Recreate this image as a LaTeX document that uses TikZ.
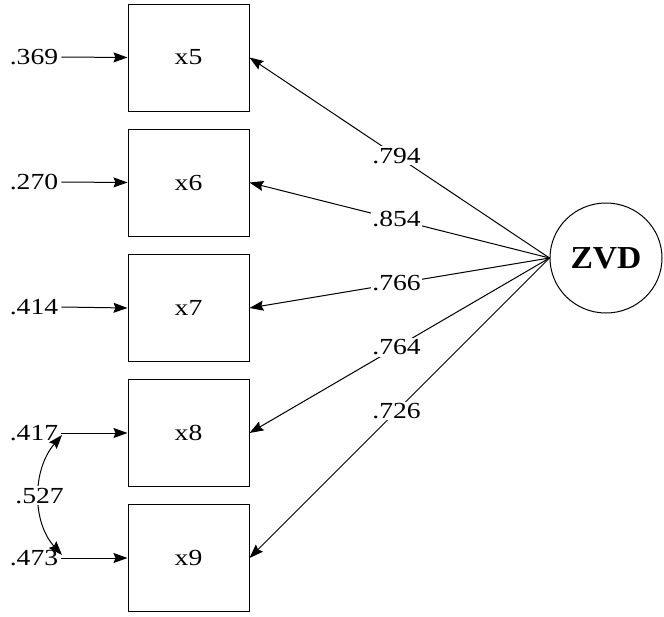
\documentclass[tikz,border=0pt]{standalone}
\usepackage{fontspec}
\setmainfont{Liberation Serif}
\newcommand{\hs}[1]{\scalebox{1.2}[1]{#1}}
\usetikzlibrary{arrows.meta,shapes.geometric}
\begin{document}
\begin{tikzpicture}[x=1pt,y=-1pt,
  box/.style={draw, line width=1pt, minimum width=121pt, minimum height=107pt, inner sep=0pt, font=\fontsize{23}{26}\selectfont},
  lat/.style={draw, ellipse, line width=1pt, minimum width=112pt, minimum height=110pt, inner sep=0pt, font=\fontsize{32}{36}\selectfont\bfseries},
  err/.style={inner sep=3pt, font=\fontsize{23}{26}\selectfont},
  coef/.style={fill=white, inner sep=1.5pt, font=\fontsize{23}{26}\selectfont},
  arr/.style={-{Stealth[length=14pt,width=10pt,inset=2pt]}, line width=1pt},
  darr/.style={{Stealth[length=14pt,width=10pt,inset=2pt]}-{Stealth[length=14pt,width=10pt,inset=2pt]}, line width=1pt}
]
\useasboundingbox (0,0) rectangle (664,616);

\node[box] (x5) at (188.5,57.5) {\hs{x5}};
\node[box] (x6) at (188.5,182.5) {\hs{x6}};
\node[box] (x7) at (188.5,308) {\hs{x7}};
\node[box] (x8) at (188.5,433) {\hs{x8}};
\node[box] (x9) at (188.5,558) {\hs{x9}};

\node[lat] (zvd) at (606,258) {\scalebox{1.05}[1]{ZVD}};

\node[err] (e5) at (34,57) {\hs{.369}};
\node[err] (e6) at (34,182) {\hs{.270}};
\node[err] (e7) at (34,307) {\hs{.414}};
\node[err] (e8) at (34,433) {\hs{.417}};
\node[err] (e9) at (34,558) {\hs{.473}};

\draw[arr] (e5.east) -- (x5.west);
\draw[arr] (e6.east) -- (x6.west);
\draw[arr] (e7.east) -- (x7.west);
\draw[arr] (e8.east) -- (x8.west);
\draw[arr] (e9.east) -- (x9.west);

\draw[arr] (zvd.west) -- node[coef, pos=0.51] {\hs{.794}} (x5.east);
\draw[arr] (zvd.west) -- node[coef, pos=0.51] {\hs{.854}} (x6.east);
\draw[arr] (zvd.west) -- node[coef, pos=0.51] {\hs{.766}} (x7.east);
\draw[arr] (zvd.west) -- node[coef, pos=0.51] {\hs{.764}} (x8.east);
\draw[arr] (zvd.west) -- node[coef, pos=0.51] {\hs{.726}} (x9.east);

\coordinate (c8) at (62,435);
\coordinate (c9) at (62,555);
\draw[darr] (c8) .. controls (32,470) and (32,522) .. node[coef, pos=0.5] {\hs{.527}} (c9);
\end{tikzpicture}
\end{document}
